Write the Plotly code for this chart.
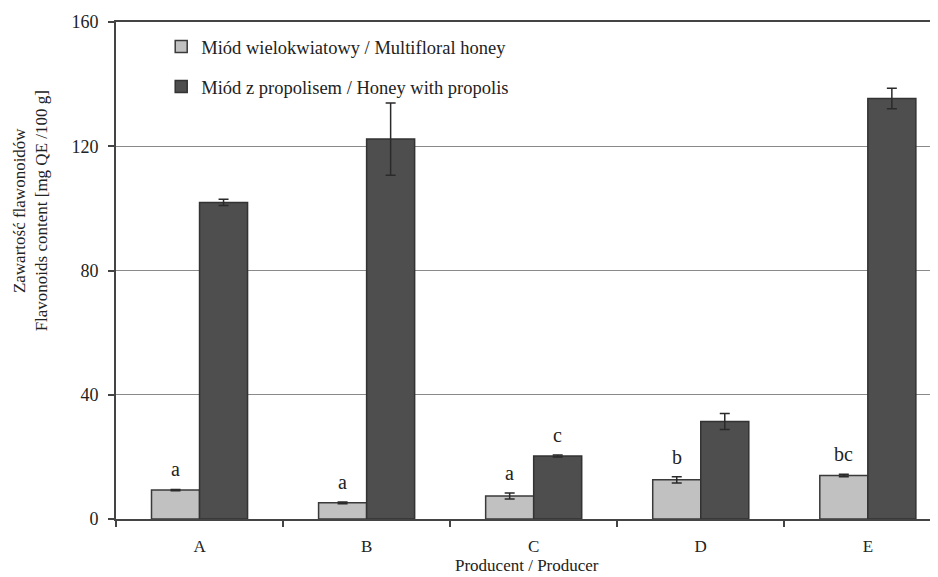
import plotly.graph_objects as go

producers = ["A", "B", "C", "D", "E"]
multifloral = [9.3, 5.2, 7.4, 12.6, 14.0]
multifloral_err = [0.2, 0.3, 1.0, 1.0, 0.4]
propolis = [101.9, 122.3, 20.3, 31.4, 135.4]
propolis_err = [1.0, 11.6, 0.3, 2.6, 3.3]
letters_light = ["a", "a", "a", "b", "bc"]
letters_dark = ["", "", "c", "", ""]

name_light = "Miód wielokwiatowy / Multifloral honey"
name_dark = "Miód z propolisem / Honey with propolis"
ytitle = "Zawartość flawonoidów<br>Flavonoids content [mg QE /100 g]"
xtitle = "Producent / Producer"

FONT = "Liberation Serif"
TXT = "#222222"
bargap = 0.425
half = (1 - bargap) / 4  # offset of each bar centre from category centre

fig = go.Figure()
fig.add_trace(go.Bar(
    x=producers, y=multifloral, name=name_light, legendgroup="g1",
    marker=dict(color="#c1c1c1", line=dict(color="#3a3a3a", width=1.5)),
    error_y=dict(type="data", array=multifloral_err, color="#2a2a2a", thickness=1.5, width=5),
))
fig.add_trace(go.Bar(
    x=producers, y=propolis, name=name_dark, legendgroup="g2",
    marker=dict(color="#4e4e4e", line=dict(color="#333333", width=1.5)),
    error_y=dict(type="data", array=propolis_err, color="#2a2a2a", thickness=1.5, width=5),
))

for i, lab in enumerate(letters_light):
    if lab:
        fig.add_annotation(x=i - half, y=multifloral[i] + multifloral_err[i], text=lab,
                           showarrow=False, yanchor="bottom", yshift=7,
                           font=dict(family=FONT, size=20, color=TXT))
for i, lab in enumerate(letters_dark):
    if lab:
        fig.add_annotation(x=i + half, y=propolis[i] + propolis_err[i], text=lab,
                           showarrow=False, yanchor="bottom", yshift=7,
                           font=dict(family=FONT, size=20, color=TXT))

fig.add_annotation(xref="paper", yref="paper", x=-0.104, y=0.62, text=ytitle,
                   textangle=-90, showarrow=False, xanchor="center", yanchor="middle",
                   font=dict(family=FONT, size=17, color=TXT))
fig.add_annotation(xref="paper", yref="paper", x=0.5, y=0, text=xtitle,
                   showarrow=False, xanchor="center", yanchor="bottom", yshift=-58,
                   font=dict(family=FONT, size=17, color=TXT))

fig.update_layout(
    width=930, height=569,
    margin=dict(l=108, r=0, t=14, b=58, autoexpand=False),
    paper_bgcolor="white", plot_bgcolor="white",
    barmode="group", bargap=bargap, bargroupgap=0,
    font=dict(family=FONT, size=18, color=TXT),
    showlegend=True,
    legend=dict(x=0.055, y=0.988, xanchor="left", yanchor="top",
                bgcolor="rgba(0,0,0,0)", tracegroupgap=13,
                font=dict(family=FONT, size=18.5, color=TXT)),
    xaxis=dict(
        range=[-0.5, 4.42], showgrid=False, showline=True, mirror=True, automargin=False,
        linecolor="#444444", linewidth=2, ticks="outside", tickson="boundaries",
        ticklen=6, tickcolor="#444444", tickwidth=1.5, ticklabelstandoff=11,
        tickfont=dict(family=FONT, size=17, color=TXT),
    ),
    yaxis=dict(
        range=[0, 160], dtick=40, showgrid=True, gridcolor="#8a8a8a", gridwidth=1,
        automargin=False,
        showline=True, linecolor="#444444", linewidth=2, ticks="outside", ticklen=6,
        tickcolor="#444444", tickwidth=1.5, ticklabelstandoff=6, zeroline=False,
    ),
)

fig.write_html("out.html")
